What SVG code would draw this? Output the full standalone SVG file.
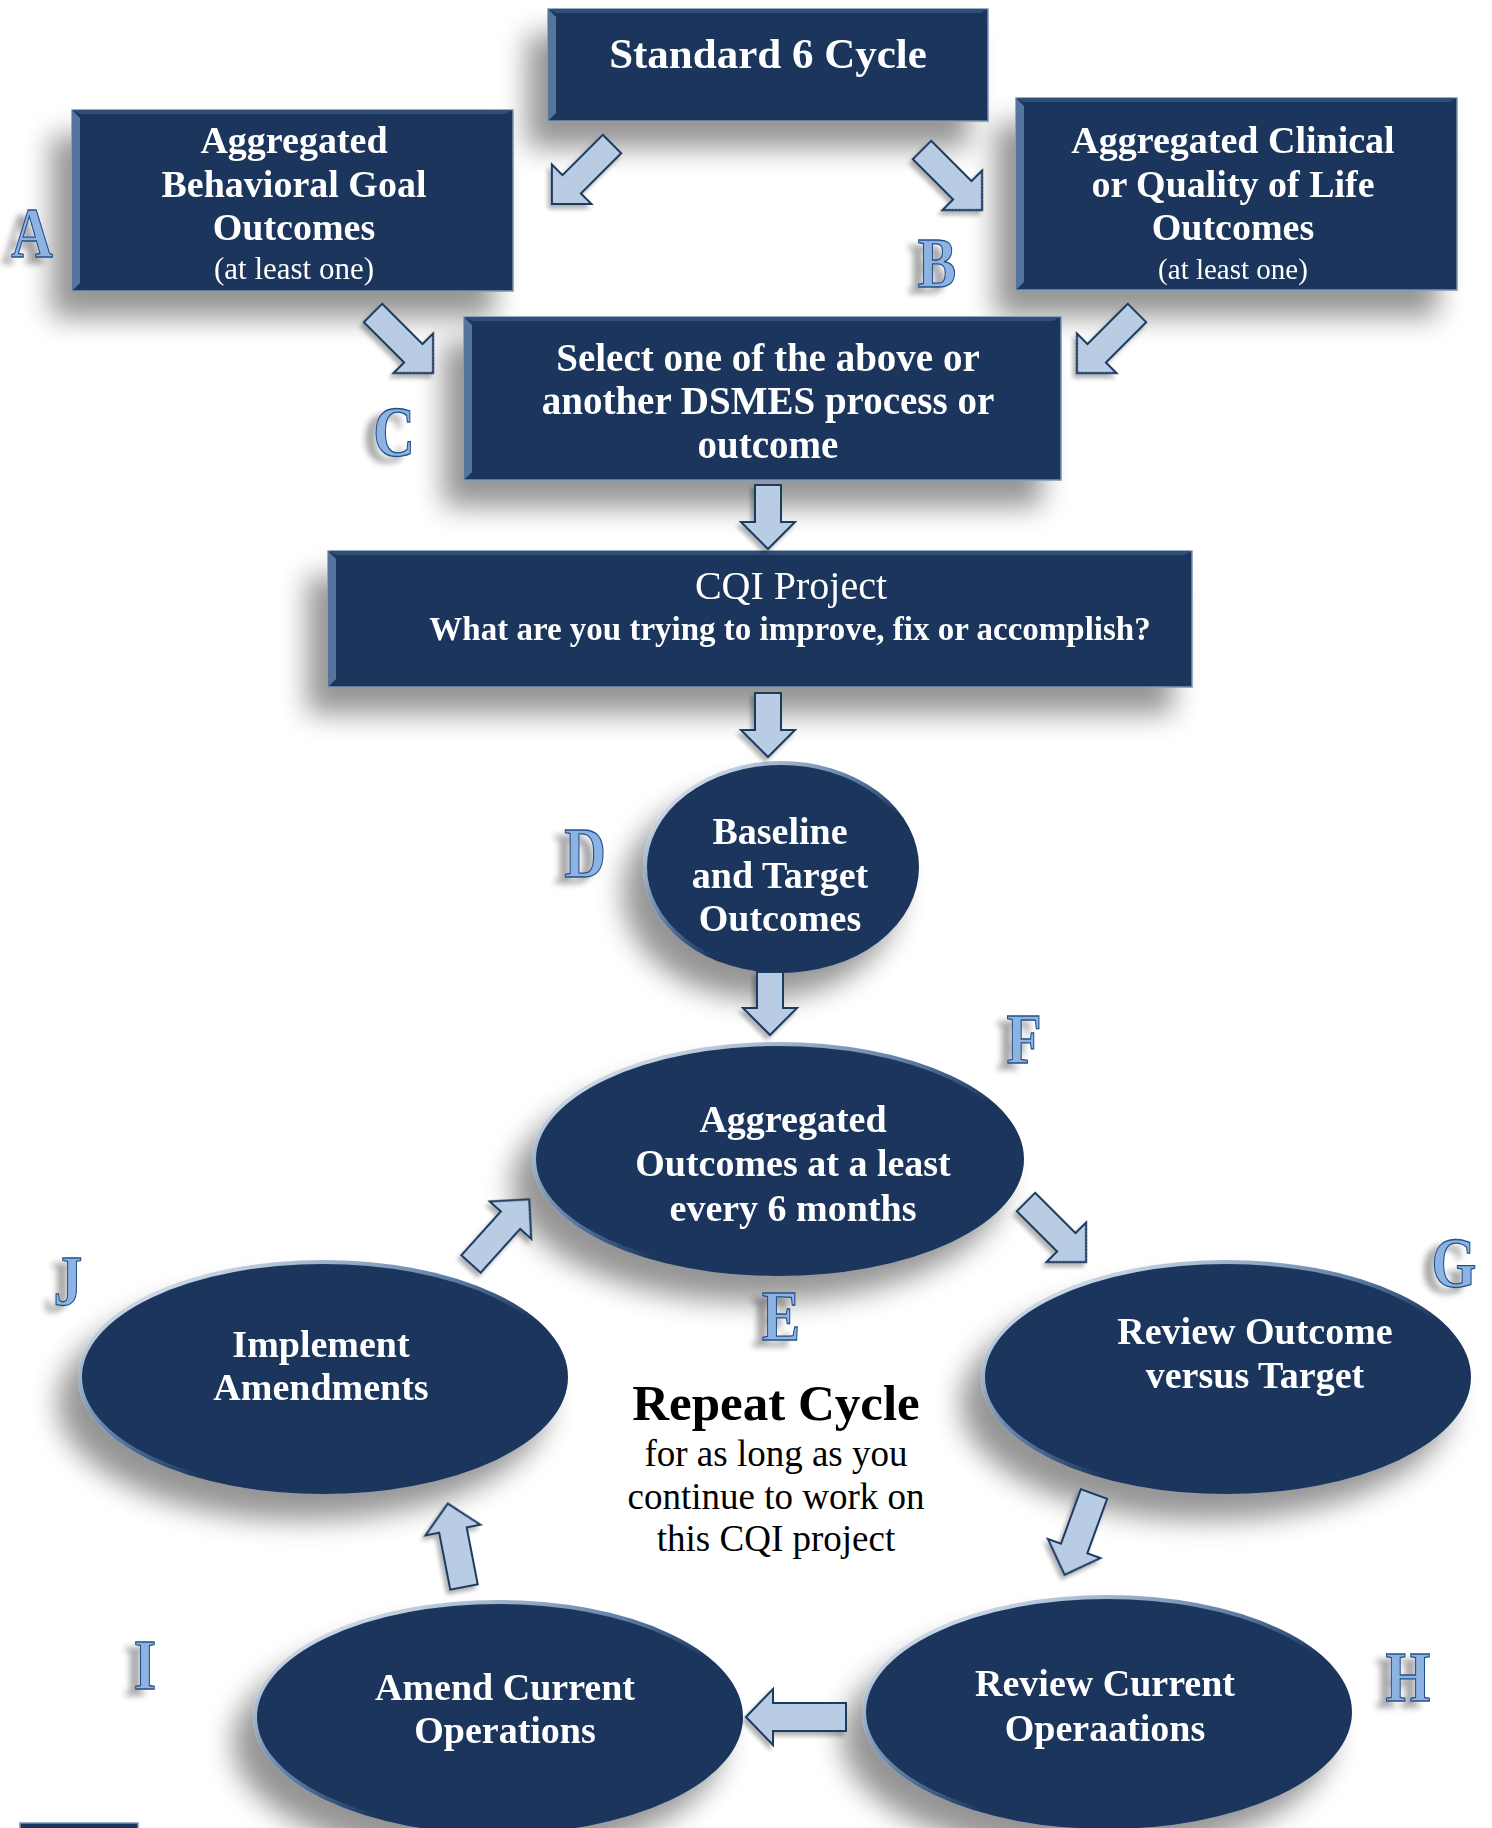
<svg xmlns="http://www.w3.org/2000/svg" width="1492" height="1828" viewBox="0 0 1492 1828">
<style>
.bx{fill:#1b365d;stroke:#7d93b1;stroke-width:1.5}
.bl{fill:#56759d}
.bt{fill:#2f4f78}
.el{fill:#1b365d;stroke:url(#rim);stroke-width:4}
.t{font-family:"Liberation Serif","Times New Roman",serif;font-weight:bold;fill:#ffffff;text-anchor:middle}
.ts{font-family:"Liberation Serif","Times New Roman",serif;fill:#ffffff;text-anchor:middle}
.lt{font-family:"Liberation Serif","Times New Roman",serif;font-weight:bold;font-size:72px;fill:#8db3e2;stroke:#24508a;stroke-width:1.3;text-anchor:middle}
.ar{fill:#b8cce4;stroke:#1f3a60;stroke-width:2;stroke-linejoin:miter}
.rp{font-family:"Liberation Serif","Times New Roman",serif;fill:#000000;text-anchor:middle}
</style>
<defs>
<filter id="sh" x="-40%" y="-40%" width="180%" height="190%">
<feGaussianBlur in="SourceAlpha" stdDeviation="14"/>
<feOffset dx="-20" dy="26" result="o"/>
<feComponentTransfer><feFuncA type="linear" slope="0.42"/></feComponentTransfer>
<feMerge><feMergeNode/><feMergeNode in="SourceGraphic"/></feMerge>
</filter>
<filter id="lsh" x="-60%" y="-40%" width="220%" height="200%">
<feGaussianBlur in="SourceAlpha" stdDeviation="3"/>
<feOffset dx="-10" dy="6"/>
<feComponentTransfer><feFuncA type="linear" slope="0.35"/></feComponentTransfer>
<feMerge><feMergeNode/><feMergeNode in="SourceGraphic"/></feMerge>
</filter>
<filter id="ash" x="-40%" y="-40%" width="180%" height="180%">
<feGaussianBlur in="SourceAlpha" stdDeviation="2"/>
<feOffset dx="-3" dy="4"/>
<feComponentTransfer><feFuncA type="linear" slope="0.3"/></feComponentTransfer>
<feMerge><feMergeNode/><feMergeNode in="SourceGraphic"/></feMerge>
</filter>
<linearGradient id="rim" x1="0" y1="0.2" x2="0.7" y2="0.9">
<stop offset="0" stop-color="#dce5ef"/>
<stop offset="0.45" stop-color="#5f7ea6"/>
<stop offset="0.7" stop-color="#1b365d"/>
<stop offset="1" stop-color="#1b365d"/>
</linearGradient>
</defs>

<g id="standard" filter="url(#sh)">
<rect class="bx" x="548" y="9" width="440" height="112"/>
<polygon class="bl" points="548,9 556,17 556,113 548,121"/>
<polygon class="bt" points="548,9 988,9 980,13 556,13"/>
<text class="t" x="768" y="68" font-size="43">Standard 6 Cycle</text>
</g>

<g id="boxA" filter="url(#sh)">
<rect class="bx" x="72" y="110" width="441" height="181"/>
<polygon class="bl" points="72,110 80,118 80,283 72,291"/>
<polygon class="bt" points="72,110 513,110 505,114 80,114"/>
<text class="t" x="294" y="153" font-size="38">Aggregated</text>
<text class="t" x="294" y="197" font-size="38">Behavioral Goal</text>
<text class="t" x="294" y="240" font-size="38">Outcomes</text>
<text class="ts" x="294" y="279" font-size="31">(at least one)</text>
</g>

<g id="boxB" filter="url(#sh)">
<rect class="bx" x="1016" y="98" width="441" height="192"/>
<polygon class="bl" points="1016,98 1024,106 1024,282 1016,290"/>
<polygon class="bt" points="1016,98 1457,98 1449,102 1024,102"/>
<text class="t" x="1233" y="153" font-size="38">Aggregated Clinical</text>
<text class="t" x="1233" y="197" font-size="38">or Quality of Life</text>
<text class="t" x="1233" y="240" font-size="38">Outcomes</text>
<text class="ts" x="1233" y="279" font-size="29">(at least one)</text>
</g>

<g id="boxC" filter="url(#sh)">
<rect class="bx" x="464" y="317" width="597" height="163"/>
<polygon class="bl" points="464,317 472,325 472,472 464,480"/>
<polygon class="bt" points="464,317 1061,317 1053,321 472,321"/>
<text class="t" x="768" y="371" font-size="39">Select one of the above or</text>
<text class="t" x="768" y="414" font-size="39">another DSMES process or</text>
<text class="t" x="768" y="458" font-size="39">outcome</text>
</g>

<g id="cqi" filter="url(#sh)">
<rect class="bx" x="328" y="551" width="864" height="136"/>
<polygon class="bl" points="328,551 336,559 336,679 328,687"/>
<polygon class="bt" points="328,551 1192,551 1184,555 336,555"/>
<text class="ts" x="791" y="599" font-size="40">CQI Project</text>
<text class="t" x="790" y="640" font-size="33">What are you trying to improve, fix or accomplish?</text>
</g>

<g id="nodeD" filter="url(#sh)">
<ellipse class="el" cx="781" cy="867" rx="136" ry="104"/>
<text class="t" x="780" y="844" font-size="38">Baseline</text>
<text class="t" x="780" y="888" font-size="38">and Target</text>
<text class="t" x="780" y="931" font-size="38">Outcomes</text>
</g>

<g id="nodeE" filter="url(#sh)">
<ellipse class="el" cx="778" cy="1159" rx="244" ry="115"/>
<text class="t" x="793" y="1132" font-size="38">Aggregated</text>
<text class="t" x="793" y="1176" font-size="38">Outcomes at a least</text>
<text class="t" x="793" y="1221" font-size="38">every 6 months</text>
</g>

<g id="nodeG" filter="url(#sh)">
<ellipse class="el" cx="1226" cy="1377" rx="243" ry="115"/>
<text class="t" x="1255" y="1344" font-size="38">Review Outcome</text>
<text class="t" x="1255" y="1388" font-size="38">versus Target</text>
</g>

<g id="nodeJ" filter="url(#sh)">
<ellipse class="el" cx="323" cy="1377" rx="243" ry="115"/>
<text class="t" x="321" y="1357" font-size="38">Implement</text>
<text class="t" x="321" y="1400" font-size="38">Amendments</text>
</g>

<g id="nodeI" filter="url(#sh)">
<ellipse class="el" cx="498" cy="1717" rx="243" ry="115"/>
<text class="t" x="505" y="1700" font-size="38">Amend Current</text>
<text class="t" x="505" y="1743" font-size="38">Operations</text>
</g>

<g id="nodeH" filter="url(#sh)">
<ellipse class="el" cx="1107" cy="1712" rx="243" ry="115"/>
<text class="t" x="1105" y="1696" font-size="38">Review Current</text>
<text class="t" x="1105" y="1741" font-size="38">Operaations</text>
</g>

<g id="repeat">
<text class="rp" x="776" y="1420" font-size="51" font-weight="bold">Repeat Cycle</text>
<text class="rp" x="776" y="1466" font-size="37">for as long as you</text>
<text class="rp" x="776" y="1509" font-size="37">continue to work on</text>
<text class="rp" x="776" y="1551" font-size="37">this CQI project</text>
</g>

<g id="letters" filter="url(#lsh)">
<text class="lt" transform="translate(32,257) scale(0.8,1)">A</text>
<text class="lt" transform="translate(937,287) scale(0.8,1)">B</text>
<text class="lt" transform="translate(394,456) scale(0.8,1)">C</text>
<text class="lt" transform="translate(585,877) scale(0.8,1)">D</text>
<text class="lt" transform="translate(781,1340) scale(0.8,1)">E</text>
<text class="lt" transform="translate(1024,1063) scale(0.8,1)">F</text>
<text class="lt" transform="translate(1454,1287) scale(0.8,1)">G</text>
<text class="lt" transform="translate(1408,1701) scale(0.8,1)">H</text>
<text class="lt" transform="translate(145,1689) scale(0.8,1)">I</text>
<text class="lt" transform="translate(68,1305) scale(0.8,1)">J</text>
</g>

<g id="connectors" filter="url(#ash)">
<path class="ar" transform="translate(612,144) rotate(45)" d="M-13,0 L13,0 L13,57 L28,57 L0,85 L-28,57 L-13,57 Z"/>
<path class="ar" transform="translate(922,150) rotate(-45)" d="M-13,0 L13,0 L13,57 L28,57 L0,85 L-28,57 L-13,57 Z"/>
<path class="ar" transform="translate(373,313) rotate(-45)" d="M-13,0 L13,0 L13,57 L28,57 L0,85 L-28,57 L-13,57 Z"/>
<path class="ar" transform="translate(1137,313) rotate(45)" d="M-13,0 L13,0 L13,57 L28,57 L0,85 L-28,57 L-13,57 Z"/>
<path class="ar" transform="translate(768,485) rotate(0)" d="M-13,0 L13,0 L13,37 L27,37 L0,64 L-27,37 L-13,37 Z"/>
<path class="ar" transform="translate(768,693) rotate(0)" d="M-13,0 L13,0 L13,37 L27,37 L0,64 L-27,37 L-13,37 Z"/>
<path class="ar" transform="translate(770,972) rotate(0)" d="M-13,0 L13,0 L13,36 L27,36 L0,63 L-27,36 L-13,36 Z"/>
<path class="ar" transform="translate(1026,1202) rotate(-45)" d="M-13,0 L13,0 L13,57 L28,57 L0,85 L-28,57 L-13,57 Z"/>
<path class="ar" transform="translate(1094,1494) rotate(20)" d="M-14,0 L14,0 L14,58 L28,58 L0,86 L-28,58 L-14,58 Z"/>
<path class="ar" transform="translate(846,1717) rotate(90)" d="M-14,0 L14,0 L14,73 L28,73 L0,100 L-28,73 L-14,73 Z"/>
<path class="ar" transform="translate(464,1587) rotate(169)" d="M-14,0 L14,0 L14,58 L28,58 L0,85 L-28,58 L-14,58 Z"/>
<path class="ar" transform="translate(471,1264) rotate(-138)" d="M-13,0 L13,0 L13,59 L28,59 L0,87 L-28,59 L-13,59 Z"/>
</g>

<rect class="bx" x="20" y="1823" width="118" height="10"/>
</svg>
